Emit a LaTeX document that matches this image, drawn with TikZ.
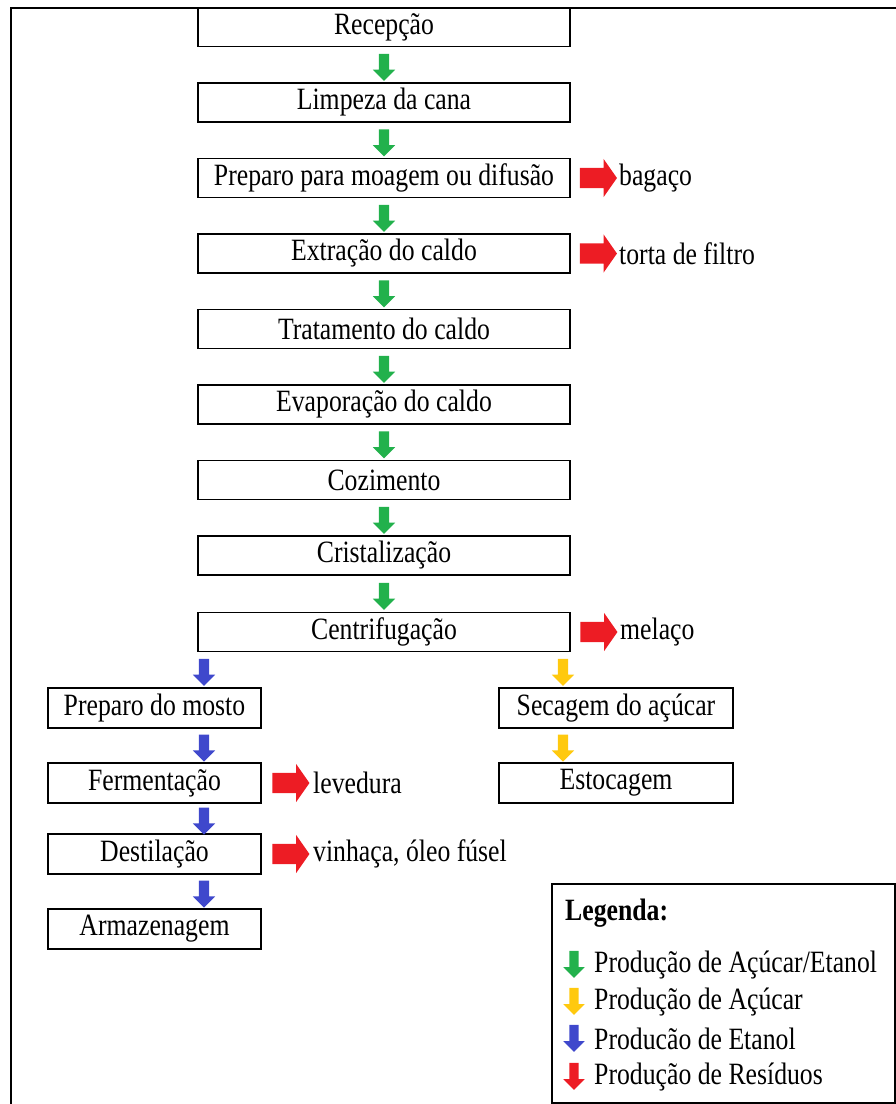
\documentclass[tikz,border=0pt]{standalone}
\usepackage{fontspec}
\setmainfont{Liberation Serif}[FakeStretch=0.83]
\usetikzlibrary{shapes.arrows}
\definecolor{verde}{RGB}{34,177,76}
\definecolor{azul}{RGB}{63,72,204}
\definecolor{amarelo}{RGB}{255,201,14}
\definecolor{vermelho}{RGB}{237,28,36}
\begin{document}
\begin{tikzpicture}[x=1pt,y=-1pt,
        font=\fontsize{31pt}{36pt}\selectfont,
        etapa/.style={draw,line width=1.5pt,minimum height=39pt,inner sep=0pt},
        baixo/.style={single arrow,draw=none,fill=#1,shape border rotate=270,
            minimum width=22pt,minimum height=27pt,single arrow head extend=6pt,
            single arrow head indent=0pt,inner sep=5pt},
        lado/.style={single arrow,draw=none,fill=vermelho,minimum width=38pt,
            minimum height=37pt,single arrow head extend=9pt,
            single arrow tip angle=110,inner sep=10pt},
        rotulo/.style={anchor=west,inner sep=0pt}]
        \useasboundingbox (0,0) rectangle (896,1104);
        \draw[line width=2pt] (11,1104) -- (11,8) -- (896,8);
        % coluna principal
        \node[etapa,minimum width=372pt] (rec) at (384,27) {Recepção};
        \node[etapa,minimum width=372pt] (limp) at (384,102.5) {Limpeza da cana};
        \node[etapa,minimum width=372pt] (prep) at (384,178) {Preparo para moagem ou difusão};
        \node[etapa,minimum width=372pt] (extr) at (384,253.5) {Extração do caldo};
        \node[etapa,minimum width=372pt] (trat) at (384,329) {Tratamento do caldo};
        \node[etapa,minimum width=372pt] (evap) at (384,404.5) {Evaporação do caldo};
        \node[etapa,minimum width=372pt] (coz) at (384,480) {Cozimento};
        \node[etapa,minimum width=372pt] (crist) at (384,555.5) {Cristalização};
        \node[etapa,minimum width=372pt] (cent) at (384,632) {Centrifugação};
        \path (rec) -- node[baixo=verde]{} (limp);
        \path (limp) -- node[baixo=verde]{} (prep);
        \path (prep) -- node[baixo=verde]{} (extr);
        \path (extr) -- node[baixo=verde]{} (trat);
        \path (trat) -- node[baixo=verde]{} (evap);
        \path (evap) -- node[baixo=verde]{} (coz);
        \path (coz) -- node[baixo=verde]{} (crist);
        \path (crist) -- node[baixo=verde]{} (cent);
        % residuos
        \node[rotulo] (bag) at (619,178) {bagaço};
        \node[rotulo] (torta) at (619,253.5) {torta de filtro};
        \node[rotulo] (mel) at (620,632) {melaço};
        \path (prep) -- node[lado]{} (bag);
        \path (extr) -- node[lado]{} (torta);
        \path (cent) -- node[lado]{} (mel);
        % etanol
        \coordinate (xa) at (204,0);
        \node[etapa,minimum width=213pt,minimum height=40pt] (mosto) at (154.5,708) {Preparo do mosto};
        \node[etapa,minimum width=213pt,minimum height=40pt] (ferm) at (154.5,783) {Fermentação};
        \node[etapa,minimum width=213pt,minimum height=40pt] (dest) at (154.5,854) {Destilação};
        \node[etapa,minimum width=213pt,minimum height=40pt] (arm) at (154.5,929) {Armazenagem};
        \path (cent.south -| xa) -- node[baixo=azul,minimum width=20pt]{} (mosto.north -| xa);
        \path (mosto.south -| xa) -- node[baixo=azul,minimum width=20pt]{} (ferm.north -| xa);
        \path (ferm.south -| xa) -- node[baixo=azul,minimum width=20pt]{} (dest.north -| xa);
        \path (dest.south -| xa) -- node[baixo=azul,minimum width=20pt]{} (arm.north -| xa);
        \node[rotulo] (lev) at (313,783) {levedura};
        \node[rotulo] (vin) at (313,854) {vinhaça, óleo fúsel};
        \path (ferm) -- node[lado]{} (lev);
        \path (dest) -- node[lado]{} (vin);
        % acucar
        \coordinate (xb) at (563,0);
        \node[etapa,minimum width=234pt,minimum height=40pt] (sec) at (616,708) {Secagem do açúcar};
        \node[etapa,minimum width=234pt,minimum height=40pt] (est) at (616,783) {Estocagem};
        \path (cent.south -| xb) -- node[baixo=amarelo]{} (sec.north -| xb);
        \path (sec.south -| xb) -- node[baixo=amarelo]{} (est.north -| xb);
        % legenda
        \node[draw,line width=1.5pt,anchor=north west,minimum width=343pt,
            minimum height=219pt,inner sep=0pt] (leg) at (551,883) {};
        \node[rotulo,font=\fontsize{31pt}{36pt}\selectfont\bfseries] (legt) at (565,913) {Legenda:};
        \node[baixo=verde,minimum width=21pt,inner sep=4.5pt] (lv) at (574,962) {};
        \node[rotulo] (tv) at (594,965) {Produção de Açúcar/Etanol};
        \node[baixo=amarelo,minimum width=21pt,inner sep=4.5pt] (la) at (574,999) {};
        \node[rotulo] (ta) at (594,1002) {Produção de Açúcar};
        \node[baixo=azul,minimum width=21pt,inner sep=4.5pt] (lz) at (574,1036) {};
        \node[rotulo] (tz) at (594,1039) {Producão de Etanol};
        \node[baixo=vermelho,minimum width=21pt,inner sep=4.5pt] (lr) at (574,1074) {};
        \node[rotulo] (tr) at (594,1077) {Produção de Resíduos};
    \end{tikzpicture}
\end{document}
